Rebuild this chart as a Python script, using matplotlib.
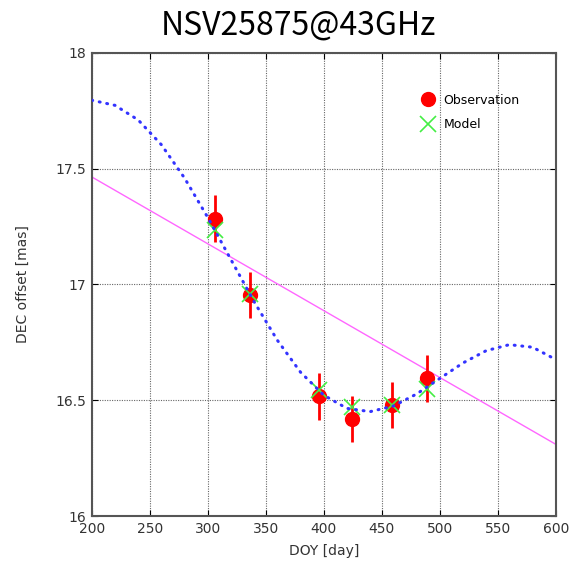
import matplotlib
matplotlib.use("Agg")
import matplotlib.pyplot as plt

# observations (DOY, DEC offset, error)
obs_day = [306, 336, 396, 424, 459, 489]
obs_dec = [17.284, 16.954, 16.517, 16.42, 16.48, 16.594]
obs_err = [0.1, 0.1, 0.1, 0.1, 0.1, 0.1]
model_dec = [17.234, 16.96, 16.543, 16.47, 16.48, 16.55]

# fitted curve
curve_day = [200, 220, 240, 260, 280, 300, 320, 340, 360, 380, 400,
             420, 440, 460, 480, 500, 520, 540, 560, 580, 600]
curve_dec = [17.795, 17.773, 17.710, 17.603, 17.459, 17.289, 17.107, 16.925,
             16.759, 16.621, 16.522, 16.465, 16.451, 16.475, 16.527, 16.594,
             16.661, 16.714, 16.740, 16.729, 16.676]

# linear proper-motion line
line_day = [200, 600]
line_dec = [17.464, 16.31]

xticks = [200, 250, 300, 350, 400, 450, 500, 550, 600]
yticks = [16, 16.5, 17, 17.5, 18]
ytick_labels = ['16', '16.5', '17', '17.5', '18']

fig = plt.figure(figsize=(5.7, 5.61), dpi=100)
ax = fig.add_axes([0.161, 0.080, 0.814, 0.826])

ax.plot(line_day, line_dec, color='#ff66ff', lw=1.0, zorder=2)
ax.errorbar(obs_day, obs_dec, yerr=obs_err, fmt='none', ecolor='red',
            elinewidth=2, capsize=0, zorder=3)
obs_h, = ax.plot(obs_day, obs_dec, 'o', color='red', ms=10, zorder=3)
mod_h, = ax.plot(obs_day, model_dec, 'x', color='#44ee44', ms=12, mew=1.2,
                 zorder=4)
ax.plot(curve_day, curve_dec, color='#3333ff', lw=2.2,
        linestyle=(0, (0.3, 2.2)), dash_capstyle='round', zorder=5)

ax.set_xlim(200, 600)
ax.set_ylim(16, 18)
ax.set_xticks(xticks)
ax.set_yticks(yticks)
ax.set_yticklabels(ytick_labels)
ax.grid(True, color='#666666', linestyle=(0, (1, 1.2)), lw=0.8)
ax.tick_params(direction='in', length=4, top=True, right=True,
               labelsize=10, labelcolor='#333333', pad=4)
for s in ax.spines.values():
    s.set_color('#555555')
    s.set_linewidth(1.5)

ax.set_xlabel('DOY [day]', fontsize=10, color='#333333', labelpad=6)
ax.set_ylabel('DEC offset [mas]', fontsize=10, color='#333333', labelpad=18)

ax.legend([obs_h, mod_h], ['Observation', 'Model'], loc='upper left',
          bbox_to_anchor=(0.685, 0.925), frameon=False, fontsize=9,
          handletextpad=0.2, labelspacing=0.9, borderpad=0)

fig.text(0.523, 0.955, 'NSV25875@43GHz', ha='center', va='center',
         fontsize=23, family=['Noto Sans CJK JP', 'DejaVu Sans'])

fig.savefig('out.png', dpi=100)
